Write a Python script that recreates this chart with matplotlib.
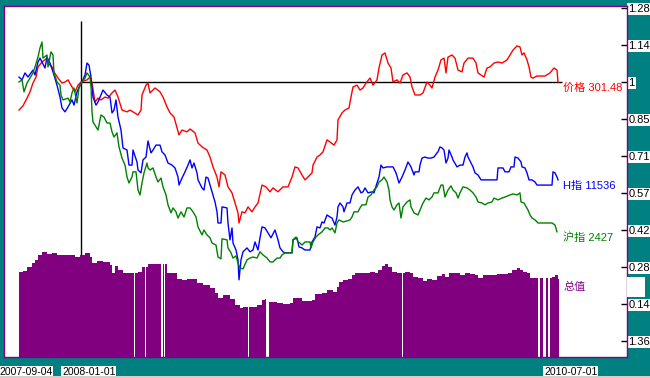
import matplotlib
matplotlib.use('Agg')
import matplotlib.pyplot as plt
from matplotlib.patches import Rectangle
from matplotlib.transforms import blended_transform_factory

plt.rcParams['font.family'] = ['Liberation Sans', 'Noto Sans CJK SC']

# 交易日序号 (0 = 2007-09-04), 归一化到 2008-01-01 = 1
BASE_DAY = 63

price = [(1,0.892),(5,0.908),(9,0.938),(12,0.962),(15,0.996),(18,1.019),(20,1.058),(24,1.077),(29,1.092),(30,1.073),
         (34,1.058),(36,1.039),(40,1.015),(44,0.996),(47,1.000),(50,1.008),(54,0.981),(57,0.962),(60,0.988),(63,1.000),
         (69,1.008),(72,1.019),(74,0.996),(77,0.923),(80,0.938),(83,0.931),(87,0.942),(90,0.938),(94,0.958),(97,0.969),
         (100,0.942),(104,0.892),(109,0.885),(112,0.892),(115,0.885),(120,0.873),(123,0.892),(124,0.950),(128,0.988),
         (130,0.996),(132,0.958),(137,0.977),(142,0.962),(145,0.942),(149,0.904),(152,0.881),(156,0.865),(159,0.823),
         (161,0.796),(164,0.815),(169,0.808),(172,0.819),(177,0.804),(180,0.765),(184,0.750),(189,0.738),(192,0.711),
         (195,0.673),(199,0.634),(201,0.596),(203,0.654),(207,0.642),(210,0.596),(214,0.573),(217,0.534),(220,0.496),
         (221,0.457),(224,0.500),(227,0.496),(230,0.519),(234,0.500),(237,0.519),(240,0.534),(244,0.603),(248,0.596),
         (252,0.577),(255,0.592),(260,0.577),(265,0.596),(270,0.596),(274,0.634),(277,0.673),(280,0.669),(284,0.642),
         (287,0.623),(290,0.634),(294,0.650),(295,0.680),(299,0.711),(302,0.719),(305,0.731),(309,0.777),(312,0.769),
         (316,0.757),(319,0.777),(320,0.854),(324,0.881),(327,0.892),(331,0.900),(333,0.942),(335,0.981),(339,0.988),
         (342,0.969),(345,0.977),(348,0.996),(352,1.015),(355,0.988),(359,1.008),(361,1.054),(364,1.104),(367,1.112),
         (370,1.073),(373,1.054),(375,1.000),(379,1.008),(382,0.996),(385,1.027),(389,1.035),(392,1.019),(394,0.981),
         (397,0.950),(402,0.950),(405,0.958),(409,1.000),(412,0.988),(414,0.977),(417,1.019),(420,1.046),(423,1.085),
         (426,1.092),(428,1.035),(430,1.096),(434,1.104),(437,1.092),(440,1.046),(444,1.039),(446,1.073),(450,1.092),
         (455,1.092),(458,1.073),(460,1.035),(463,1.027),(466,1.019),(469,1.054),(472,1.058),(476,1.073),(480,1.077),
         (484,1.073),(489,1.085),(492,1.104),(495,1.123),(499,1.139),(502,1.135),(504,1.104),(506,1.112),(509,1.085),
         (511,1.058),(513,1.019),(515,1.015),(519,1.023),(527,1.023),(532,1.035),(536,1.054),(539,1.046),(540,1.000)]

h_index = [(1,1.019),(4,1.008),(7,1.035),(10,1.019),(13,1.035),(15,1.046),(17,1.027),(20,1.077),(22,1.092),(24,1.077),
           (27,1.054),(29,1.096),(32,1.073),(35,1.039),(39,0.988),(42,0.942),(44,0.900),(47,0.885),(50,0.904),(54,0.931),
           (56,0.911),(59,0.962),(62,0.988),(64,1.000),(67,1.027),(69,1.073),(71,1.065),(73,1.019),(74,0.977),(75,0.942),
           (78,0.911),(80,0.923),(83,0.950),(85,0.969),(89,0.950),(92,0.942),(94,0.881),(96,0.892),(98,0.931),(100,0.865),
           (103,0.815),(105,0.746),(109,0.738),(111,0.680),(114,0.680),(115,0.738),(119,0.692),(120,0.661),(123,0.650),
           (125,0.700),(128,0.711),(130,0.773),(133,0.727),(135,0.738),(138,0.757),(142,0.757),(144,0.731),(147,0.719),
           (150,0.688),(154,0.680),(157,0.669),(160,0.634),(161,0.603),(164,0.630),(167,0.654),(170,0.680),(172,0.700),
           (174,0.669),(176,0.688),(179,0.650),(180,0.623),(184,0.592),(186,0.584),(188,0.634),(190,0.630),(194,0.577),
           (197,0.538),(199,0.500),(200,0.457),(203,0.457),(204,0.519),(209,0.515),(210,0.457),(212,0.392),(214,0.438),
           (215,0.380),(218,0.353),(220,0.315),(221,0.238),(223,0.315),(225,0.346),(229,0.361),(232,0.346),(235,0.353),
           (237,0.384),(240,0.353),(242,0.400),(244,0.442),(247,0.438),(250,0.419),(253,0.400),(257,0.430),(260,0.392),
           (262,0.361),(265,0.346),(267,0.342),(274,0.342),(275,0.392),(279,0.400),(281,0.365),(284,0.361),(287,0.353),
           (292,0.353),(294,0.384),(297,0.403),(299,0.442),(302,0.438),(304,0.461),(306,0.457),(309,0.488),(312,0.480),
           (314,0.476),(317,0.449),(319,0.480),(320,0.519),(322,0.534),(325,0.519),(326,0.500),(329,0.534),(332,0.534),
           (334,0.565),(337,0.584),(340,0.596),(343,0.573),(345,0.577),(347,0.592),(350,0.573),(354,0.577),(356,0.573),
           (359,0.611),(361,0.634),(363,0.680),(365,0.669),(369,0.673),(375,0.673),(378,0.650),(381,0.611),(384,0.634),
           (387,0.661),(390,0.692),(393,0.673),(396,0.642),(397,0.654),(401,0.654),(402,0.680),(404,0.707),(407,0.711),
           (410,0.707),(413,0.707),(416,0.711),(419,0.727),(420,0.731),(422,0.750),(424,0.746),(426,0.738),(428,0.688),
           (430,0.707),(431,0.738),(434,0.711),(435,0.700),(439,0.673),(442,0.680),(445,0.680),(447,0.711),(449,0.727),
           (450,0.711),(453,0.688),(455,0.673),(457,0.650),(460,0.642),(463,0.623),(479,0.623),(480,0.669),(485,0.669),
           (487,0.654),(491,0.654),(493,0.673),(496,0.673),(497,0.711),(500,0.707),(503,0.692),(504,0.673),(507,0.669),
           (509,0.650),(511,0.623),(514,0.623),(517,0.615),(519,0.603),(534,0.603),(535,0.654),(537,0.650),(539,0.634),
           (540,0.623)]

sh_index = [(1,1.000),(4,1.008),(6,0.962),(9,0.996),(12,1.015),(15,1.035),(17,1.058),(20,1.096),(22,1.131),(24,1.154),
            (25,1.092),(29,1.104),(30,1.058),(33,1.116),(35,1.104),(36,1.035),(39,1.000),(42,0.988),(43,0.950),(45,0.931),
            (50,0.938),(52,0.923),(54,0.958),(56,0.977),(59,0.919),(61,0.977),(64,1.000),(67,1.015),(69,1.035),(72,1.019),
            (73,0.981),(74,0.885),(75,0.846),(78,0.827),(80,0.815),(83,0.873),(86,0.865),(89,0.842),(92,0.842),(94,0.808),
            (96,0.788),(99,0.804),(101,0.750),(104,0.707),(107,0.680),(109,0.634),(111,0.611),(114,0.634),(115,0.654),
            (118,0.654),(120,0.584),(122,0.565),(124,0.611),(126,0.650),(129,0.688),(130,0.669),(132,0.661),(135,0.669),
            (138,0.634),(140,0.615),(143,0.630),(145,0.596),(148,0.565),(150,0.527),(153,0.496),(155,0.515),(158,0.500),
            (160,0.476),(163,0.500),(166,0.480),(169,0.515),(172,0.515),(175,0.500),(178,0.480),(180,0.442),(184,0.411),
            (186,0.430),(189,0.411),(192,0.400),(194,0.380),(198,0.372),(200,0.326),(203,0.319),(204,0.396),(209,0.392),
            (210,0.361),(213,0.342),(215,0.322),(218,0.330),(220,0.303),(222,0.284),(225,0.280),(229,0.315),(232,0.322),
            (235,0.326),(239,0.322),(242,0.346),(245,0.334),(249,0.322),(252,0.307),(255,0.307),(259,0.322),(262,0.322),
            (264,0.334),(267,0.342),(274,0.342),(275,0.392),(278,0.403),(280,0.384),(282,0.380),(284,0.372),(287,0.384),
            (292,0.384),(293,0.361),(295,0.384),(298,0.403),(300,0.411),(304,0.423),(307,0.438),(310,0.438),(312,0.430),
            (314,0.438),(317,0.419),(319,0.457),(321,0.469),(325,0.461),(329,0.465),(332,0.469),(334,0.480),(336,0.500),
            (340,0.500),(342,0.515),(344,0.527),(348,0.527),(350,0.557),(353,0.565),(356,0.584),(359,0.596),(361,0.615),
            (364,0.623),(366,0.634),(369,0.615),(371,0.584),(372,0.546),(374,0.519),(376,0.507),(379,0.527),(381,0.534),
            (383,0.476),(385,0.519),(389,0.538),(392,0.546),(393,0.519),(396,0.496),(400,0.488),(403,0.515),(405,0.534),
            (408,0.553),(411,0.546),(414,0.557),(416,0.573),(420,0.573),(423,0.603),(425,0.603),(427,0.557),(430,0.584),
            (433,0.600),(435,0.584),(438,0.573),(440,0.553),(442,0.573),(445,0.596),(449,0.592),(452,0.584),(455,0.573),
            (458,0.557),(460,0.538),(464,0.534),(467,0.527),(470,0.534),(474,0.538),(476,0.553),(480,0.546),(484,0.553),
            (487,0.557),(492,0.565),(495,0.569),(499,0.565),(502,0.573),(503,0.538),(506,0.534),(510,0.507),(512,0.488),
            (514,0.476),(517,0.469),(520,0.457),(534,0.457),(537,0.449),(539,0.423)]

# 总值 (0 = 当日无数据)
total = [(1,0.85),(5,0.86),(9,0.90),(14,0.94),(17,0.97),(20,1.02),(24,1.05),(29,1.03),(34,1.04),(39,1.02),(45,1.02),
         (52,1.02),(57,1.00),(62,1.02),(67,1.04),(72,1.00),(74,0.94),(79,0.96),(85,0.95),(92,0.92),(94,0.84),(97,0.91),
         (100,0.87),(105,0.84),(116,0),(117,0.84),(120,0.85),(124,0.90),(127,0),(128,0.90),(130,0.93),(143,0),(145,0.93),
         (146,0),(147,0.93),(149,0.84),(155,0.84),(159,0.78),(164,0.77),(169,0.78),(175,0.78),(179,0.74),(185,0.72),
         (192,0.69),(197,0.64),(200,0.59),(205,0.62),(212,0.58),(217,0.52),(222,0.49),(225,0.50),(230,0),(231,0.50),
         (234,0.50),(239,0.52),(244,0.57),(247,0.58),(248,0),(251,0.55),(254,0.55),(259,0.54),(265,0.53),(272,0.54),
         (275,0.59),(279,0.59),(284,0.56),(290,0.56),(294,0.57),(297,0.63),(304,0.64),(309,0.67),(312,0.67),(315,0.65),
         (319,0.70),(321,0.75),(325,0.77),(330,0.78),(334,0.82),(337,0.84),(342,0.84),(347,0.84),(352,0.85),(357,0.84),
         (360,0.87),(364,0.91),(367,0.93),(370,0.90),(374,0.85),(379,0.84),(384,0),(385,0.84),(387,0.85),(392,0.84),
         (395,0.80),(400,0.79),(405,0.76),(409,0.78),(414,0.77),(419,0.81),(424,0.83),(427,0.80),(431,0.84),(437,0.84),
         (442,0.82),(447,0.84),(452,0.83),(457,0.82),(460,0.79),(465,0.82),(472,0.82),(479,0.83),(485,0.83),(490,0.84),
         (494,0.87),(499,0.89),(502,0.87),(505,0.85),(509,0.84),(512,0.79),(520,0),(522,0.79),(525,0),(528,0.79),
         (530,0),(532,0.79),(534,0.80),(537,0.82),(540,0.78),(541,0.78)]

series_labels = ['价格 301.48', 'H指 11536', '沪指 2427']
total_label = '总值'
tick_labels = ['1.28', '1.14', '1', '0.85', '0.71', '0.57', '0.42', '0.28', '0.14', '1.36']
date_labels = ['2007-09-04', '2008-01-01', '2010-07-01']
date_days = [0, 63, 545]

TEAL = '#008080'
PURPLE = '#800080'
colors = ['#ff0000', '#0000ff', '#008000']

W, H = 650, 378
fig = plt.figure(figsize=(W / 100, H / 100), dpi=100, facecolor=TEAL)


def px_rect(l, t, r, b):
    return [l / W, (H - b) / H, (r - l) / W, (b - t) / H]


step = 0.1425          # 刻度间隔
per_px = step / 37.0
y_top = 1 + 76 * per_px
y_bot = 1 - 275 * per_px
xlim = (-14, 609)

ax = fig.add_axes(px_rect(4, 6, 627, 357))
ax.set_facecolor('white')
ax.set_xlim(*xlim)
ax.set_ylim(y_bot, y_top)
for s in ax.spines.values():
    s.set_color(PURPLE)
    s.set_linewidth(1)

ax.set_xticks([])
ax.yaxis.tick_right()
ax.set_yticks([1 + k * step for k in range(2, -8, -1)])
ax.set_yticklabels(tick_labels)
ax.tick_params(axis='y', direction='in', length=4, width=1, pad=1, labelsize=8, colors='black')
for t in ax.get_yticklabels():
    t.set_bbox(dict(facecolor='white', edgecolor='none', pad=0.8))

# 基准线
ax.vlines(BASE_DAY, y_bot, 1 + 61 * per_px, color='black', lw=1, zorder=2)
ax.hlines(1.0, BASE_DAY, 544, color='black', lw=1, zorder=2)

for data, c, lab in zip([price, h_index, sh_index], colors, series_labels):
    d, v = zip(*data)
    ax.plot(d, v, color=c, lw=1.0, zorder=3)
    ax.text(545, v[-1] - 0.023, lab, color=c, fontsize=8, ha='left', va='center')

# 总值柱
axb = fig.add_axes(px_rect(4, 6, 627, 357))
axb.patch.set_visible(False)
axb.axis('off')
axb.set_xlim(*xlim)
axb.set_ylim(0, 3.51)
td, tv = zip(*total)
axb.fill_between(td, tv, step='post', color=PURPLE, lw=0)
axb.text(545, tv[-1] - 0.08, total_label, color=PURPLE, fontsize=8, ha='left', va='center')

# 日期标签
trans = blended_transform_factory(ax.transData, fig.transFigure)
for dd, lab in zip(date_days, date_labels):
    ax.text(dd - 19, (H - 372) / H, lab, transform=trans, fontsize=7.5, ha='left', va='center',
            clip_on=False, bbox=dict(facecolor='white', edgecolor='none', pad=0.6))

fig.patches.append(Rectangle((627 / W, (H - 297) / H), 18 / W, 20 / H, transform=fig.transFigure,
                             facecolor='white', edgecolor='none'))
fig.patches.append(Rectangle((0, 0), 1, 2 / H, transform=fig.transFigure,
                             facecolor='#d4d0c8', edgecolor='none'))

fig.savefig('out.png', dpi=100, facecolor=TEAL)
